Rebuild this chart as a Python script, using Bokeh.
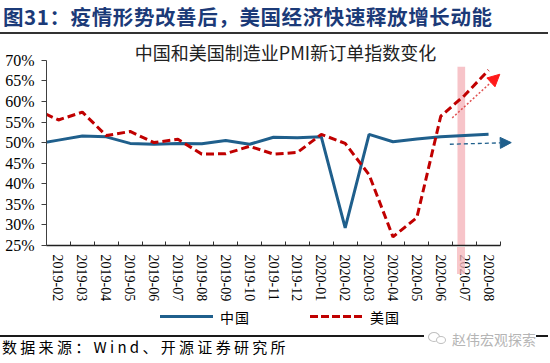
from bokeh.plotting import figure
from bokeh.layouts import column
from bokeh.models import (Range1d, FixedTicker, PrintfTickFormatter, Label, BoxAnnotation,
                          Arrow, NormalHead, Div)
from bokeh.embed import file_html
from bokeh.resources import INLINE

# ---------------- data ----------------
months = ["2019-01", "2019-02", "2019-03", "2019-04", "2019-05", "2019-06", "2019-07",
          "2019-08", "2019-09", "2019-10", "2019-11", "2019-12", "2020-01", "2020-02",
          "2020-03", "2020-04", "2020-05", "2020-06", "2020-07", "2020-08"]
china = [49.6, 50.6, 51.6, 51.4, 49.8, 49.6, 49.8, 49.7, 50.5, 49.6, 51.3, 51.2,
         51.4, 29.3, 52.0, 50.2, 50.9, 51.4, 51.7, 52.0]
usa = [58.2, 55.5, 57.4, 51.7, 52.7, 50.0, 50.8, 47.2, 47.3, 49.1, 47.2, 47.6,
       52.0, 49.8, 42.2, 27.1, 31.8, 56.4, 61.5, 67.6]
tick_labels = months[1:]
y_ticks = [25, 30, 35, 40, 45, 50, 55, 60, 65, 70]

title_text = "图31：疫情形势改善后，美国经济快速释放增长动能"
chart_title = "中国和美国制造业PMI新订单指数变化"
source_text = "数据来源：Wind、开源证券研究所"
watermark = "赵伟宏观探索"
series_names = ["中国", "美国"]
series_colors = ["#1f5f8c", "#c00000"]
band_color = "#f5b5bb"

# ---------------- layout constants ----------------
W = 550
TITLE_H, FOOT_H = 35, 59
FIG_H = 269
BL, BR, BT, BB = 46, 0, 0, 57
FRAME_H = FIG_H - BT - BB           # 212 px of frame
AXIS_TOP_PAD = 25                   # px between frame top and the 70% tick
AXIS_RIGHT = 500                    # figure px where the x axis ends
CJK = "Noto Sans CJK SC"
SERIF = "Liberation Serif"

n_cat = len(tick_labels)
# x position: label i sits at category centre i; first month falls left of the frame
xpos = [i - 1 for i in range(len(months))]

px_per_unit_y = (FRAME_H - AXIS_TOP_PAD) / (y_ticks[-1] - y_ticks[0])
y_end = y_ticks[-1] + AXIS_TOP_PAD / px_per_unit_y
px_per_unit_x = (AXIS_RIGHT - BL) / n_cat
x_end = -0.5 + (W - BR - BL) / px_per_unit_x

p = figure(width=W, height=FIG_H, x_range=Range1d(-0.5, x_end),
           y_range=Range1d(y_ticks[0], y_end), output_backend="svg", title=None,
           toolbar_location=None, min_border_left=BL, min_border_right=BR,
           min_border_top=BT, min_border_bottom=BB, margin=0)
p.background_fill_color = "white"
p.border_fill_color = "white"
p.outline_line_color = None
p.grid.visible = False

# x axis
xa = p.xaxis[0]
xa.bounds = (-0.5, n_cat - 0.5)
xa.ticker = FixedTicker(ticks=list(range(n_cat)),
                        minor_ticks=[i - 0.5 for i in range(n_cat + 1)])
xa.major_label_overrides = {i: lab for i, lab in enumerate(tick_labels)}
xa.major_label_orientation = "vertical"
xa.major_tick_in = 0
xa.major_tick_out = 0
xa.minor_tick_in = 4
xa.minor_tick_out = 0
xa.minor_tick_line_color = "#303030"
xa.axis_line_color = "#202020"
xa.axis_line_width = 1.3
xa.major_label_standoff = 9
xa.major_label_text_font = SERIF
xa.major_label_text_font_size = "14px"
xa.major_label_text_color = "black"

# y axis
ya = p.yaxis[0]
ya.bounds = (y_ticks[0], y_ticks[-1])
ya.ticker = FixedTicker(ticks=y_ticks)
ya.formatter = PrintfTickFormatter(format="%d%%")
ya.major_tick_in = 0
ya.major_tick_out = 5
ya.minor_tick_line_color = None
ya.axis_line_color = "#404040"
ya.major_tick_line_color = "#404040"
ya.major_label_standoff = 7
ya.major_label_text_font = SERIF
ya.major_label_text_font_size = "16px"
ya.major_label_text_color = "black"

# highlight band at 2020-07
band_x = xpos[months.index("2020-07")]
band_left, band_right = band_x - 0.30, band_x + 0.02
p.add_layout(BoxAnnotation(left=band_left, right=band_right, top=68.4,
                           bottom=y_ticks[0], fill_color=band_color, fill_alpha=0.8,
                           line_color=None, level="underlay"))

r_cn = p.line(xpos, china, line_color=series_colors[0], line_width=3)
r_us = p.line(xpos, usa, line_color=series_colors[1], line_width=3, line_dash="8 4")

# trend arrows
p.add_layout(Arrow(x_start=16.48, y_start=56.0, x_end=18.47, y_end=66.6,
                   line_color="#e05050", line_width=1.5, line_dash="2 2",
                   end=NormalHead(size=12, fill_color="#ff1a1a", line_color="#ff1a1a")))
p.add_layout(Arrow(x_start=16.38, y_start=49.6, x_end=18.95, y_end=50.0,
                   line_color=series_colors[0], line_width=1.3, line_dash="4 3",
                   end=NormalHead(size=11, fill_color=series_colors[0],
                                  line_color=series_colors[0])))

# chart title inside the (extended) frame
p.add_layout(Label(x=285 - BL, y=FRAME_H - 18.5, x_units="screen", y_units="screen",
                   text=chart_title, text_font=CJK, text_font_size="18px",
                   text_color="#222222", text_baseline="middle", text_align="center"))

title_div = Div(width=W, height=TITLE_H, margin=0, text=(
    f'<div style="position:relative;width:{W}px;height:{TITLE_H}px;">'
    f'<div style="position:absolute;left:3px;top:6px;font-family:\'{CJK}\';font-size:20.5px;'
    f'font-weight:bold;letter-spacing:0.6px;line-height:20px;color:#1b3a78;white-space:nowrap;">'
    f'{title_text}</div>'
    f'<div style="position:absolute;left:0;top:32px;width:548px;height:2px;background:#333;"></div>'
    f'</div>'))

# continuation of the 2020-07 band over the x labels
band_px_left = BL + (band_left + 0.5) * px_per_unit_x
band_px_w = (band_right - band_left) * px_per_unit_x

foot_div = Div(width=W, height=FOOT_H, margin=0, text=(
    f'<div style="position:relative;width:{W}px;height:{FOOT_H}px;font-family:\'{CJK}\';'
    f'font-size:14px;color:black;">'
    f'<div style="position:absolute;left:{band_px_left:.1f}px;top:-57px;width:{band_px_w:.1f}px;'
    f'height:27px;background:{band_color};opacity:0.75;"></div>'
    f'<div style="position:absolute;left:160px;top:11px;width:53px;height:3px;'
    f'background:{series_colors[0]};"></div>'
    f'<div style="position:absolute;left:220px;top:4px;line-height:18px;letter-spacing:1px;">'
    f'{series_names[0]}</div>'
    f'<div style="position:absolute;left:310px;top:11px;width:54px;height:3px;'
    f'background:repeating-linear-gradient(to right,{series_colors[1]} 0 8px,transparent 8px 11px);"></div>'
    f'<div style="position:absolute;left:370px;top:4px;line-height:18px;letter-spacing:1px;">'
    f'{series_names[1]}</div>'
    f'<div style="position:absolute;left:2px;top:34px;font-size:15px;line-height:18px;'
    f'letter-spacing:3.3px;color:black;white-space:nowrap;background:transparent;">{source_text}</div>'
    f'<div style="position:absolute;left:0;top:31px;width:548px;height:2px;'
    f'background:#1a1a1a;z-index:5;"></div>'
    f'<div style="position:absolute;left:424px;top:25px;width:112px;height:17px;'
    f'background:white;z-index:6;"></div>'
    f'<div style="position:absolute;left:428px;top:28px;width:12px;height:10px;'
    f'border:1.2px solid #c0c0c0;border-radius:50%;z-index:7;"></div>'
    f'<div style="position:absolute;left:436px;top:32px;width:10px;height:8px;'
    f'border:1.2px solid #c0c0c0;border-radius:50%;background:white;z-index:7;"></div>'
    f'<div style="position:absolute;left:452px;top:26px;font-size:14px;line-height:18px;'
    f'color:#b5b5b5;white-space:nowrap;z-index:7;">{watermark}</div>'
    f'</div>'))

layout = column(title_div, p, foot_div, spacing=0, margin=0)

open("out.html", "w").write(file_html(layout, INLINE))
